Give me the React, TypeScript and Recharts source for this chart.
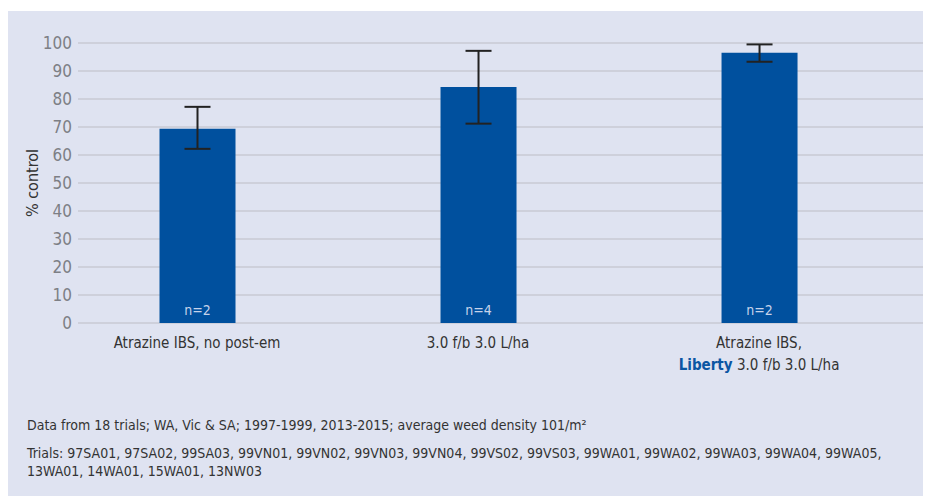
import React from 'react';
import {
  ComposedChart,
  Bar,
  XAxis,
  YAxis,
  CartesianGrid,
  ErrorBar,
  LabelList,
} from 'recharts';

const categories = ['Atrazine IBS, no post-em', '3.0 f/b 3.0 L/ha', 'Atrazine IBS,'];
const secondLine = ['', '', '3.0 f/b 3.0 L/ha'];
const values = [69.4, 84.3, 96.5];
const errLow = [7.2, 13.1, 3.2];
const errHigh = [7.8, 12.9, 3.0];
const nLabels = ['n=2', 'n=4', 'n=2'];
const yTicks = [0, 10, 20, 30, 40, 50, 60, 70, 80, 90, 100];

const data = values.map((v, i) => ({
  x: i,
  value: v,
  err: [errLow[i], errHigh[i]],
  n: nLabels[i],
}));

const FONT = '"Liberation Sans Narrow", "DejaVu Sans Condensed", "Roboto", sans-serif';

function CategoryTick(props: any) {
  const { x, y, payload } = props;
  const i = payload.value;
  return (
    <g>
      <text x={x} y={y + 17} textAnchor="middle" fontSize={15} fill="#333" fontFamily={FONT}>
        {categories[i]}
      </text>
      {i === 2 && (
        <text x={x} y={y + 39} textAnchor="middle" fontSize={15} fill="#333" fontFamily={FONT}>
          <tspan fontWeight="bold" fill="#0b56a3">Liberty</tspan>
          <tspan> {secondLine[i]}</tspan>
        </text>
      )}
    </g>
  );
}

export default function App() {
  return (
    <div
      style={{
        position: 'relative',
        marginTop: 3,
        width: 916,
        height: 490,
        background: '#dfe3f1',
        fontFamily: FONT,
      }}
    >
      <ComposedChart
        width={916}
        height={370}
        data={data}
        margin={{ top: 32, right: 0, bottom: 0, left: 0 }}
      >
        <CartesianGrid vertical={false} stroke="#c9cad3" strokeWidth={1.5} />
        <XAxis
          dataKey="x"
          type="number"
          domain={[-0.4235, 2.587]}
          ticks={[0, 1, 2]}
          axisLine={false}
          tickLine={false}
          height={58}
          tick={<CategoryTick />}
          interval={0}
        />
        <YAxis
          width={70}
          domain={[0, 100]}
          ticks={yTicks}
          axisLine={false}
          tickLine={false}
          tickSize={0}
          tickMargin={6}
          tick={{ fill: '#7d7f85', fontSize: 17, fontFamily: FONT }}
          label={{
            value: '% control',
            angle: -90,
            position: 'insideLeft',
            offset: 24,
            fill: '#333',
            fontSize: 16,
            fontFamily: FONT,
            style: { textAnchor: 'middle' },
          }}
        />
        <Bar dataKey="value" fill="#00509e" barSize={76} isAnimationActive={false}>
          <LabelList
            dataKey="n"
            position="insideBottom"
            offset={8}
            fill="#c6d3ea"
            fontSize={14}
            fontFamily={FONT}
          />
          <ErrorBar dataKey="err" width={13} stroke="#222" strokeWidth={2} direction="y" />
        </Bar>
      </ComposedChart>
      <div
        style={{
          position: 'absolute',
          left: 19,
          top: 405,
          fontSize: 14,
          color: '#333',
          lineHeight: '18px',
        }}
      >
        Data from 18 trials; WA, Vic &amp; SA; 1997-1999, 2013-2015; average weed density 101/m²
      </div>
      <div
        style={{
          position: 'absolute',
          left: 19,
          top: 433,
          width: 890,
          fontSize: 14,
          color: '#333',
          lineHeight: '18px',
        }}
      >
        Trials: 97SA01, 97SA02, 99SA03, 99VN01, 99VN02, 99VN03, 99VN04, 99VS02, 99VS03, 99WA01, 99WA02,
        99WA03, 99WA04, 99WA05,
        <br />
        13WA01, 14WA01, 15WA01, 13NW03
      </div>
    </div>
  );
}
